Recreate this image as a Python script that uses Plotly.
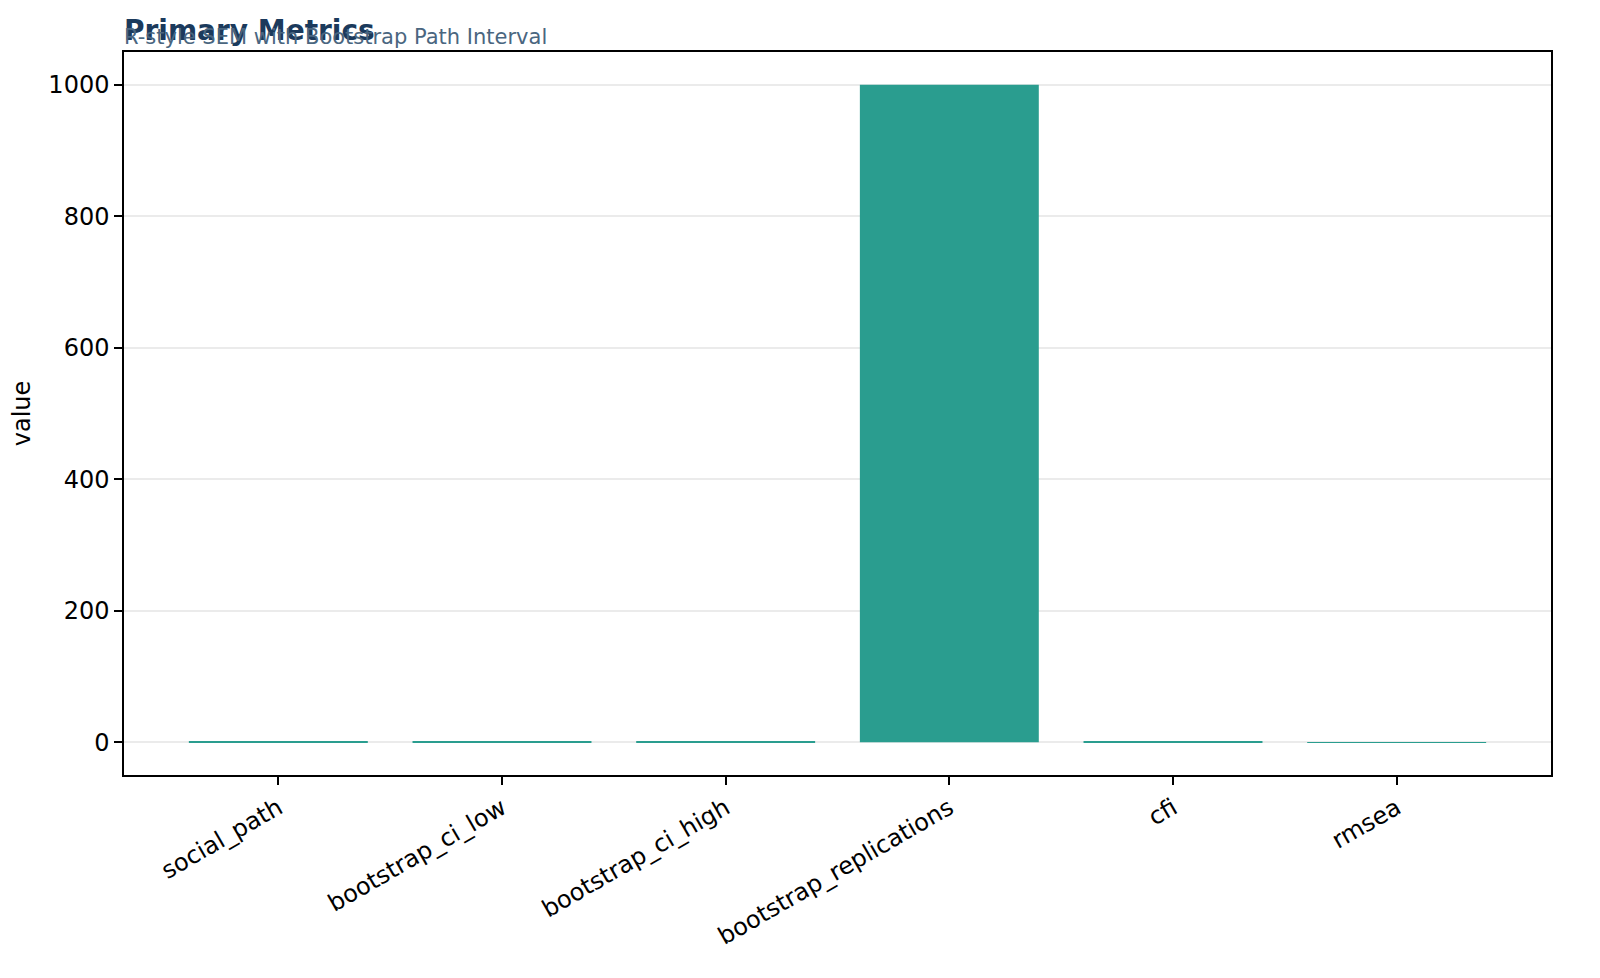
import plotly.graph_objects as go

# metric names and values
metrics = ["social_path", "bootstrap_ci_low", "bootstrap_ci_high",
           "bootstrap_replications", "cfi", "rmsea"]
values = [0.42, 0.28, 0.57, 1000, 0.96, 0.04]
y_ticks = [0, 200, 400, 600, 800, 1000]

bar_color = "#2a9d8f"
font_family = "DejaVu Sans, Liberation Sans, sans-serif"

fig = go.Figure()
fig.add_trace(go.Bar(
    x=list(range(len(metrics))),
    y=values,
    width=0.8,
    marker=dict(color=bar_color, line=dict(width=0)),
))

# page body has an 8px margin, so the figure is a bit smaller than the window
fig.update_layout(
    width=1584, height=962,
    paper_bgcolor="white", plot_bgcolor="white",
    margin=dict(l=116, r=41, t=44, b=195),
    font=dict(family=font_family, size=24, color="black"),
    showlegend=False,
    bargap=0.2,
)

fig.update_xaxes(
    tickmode="array",
    tickvals=list(range(len(metrics))),
    ticktext=metrics,
    tickangle=-30,
    range=[-0.69, len(metrics) - 1 + 0.69],
    showline=True, linecolor="black", linewidth=1.5, mirror=True,
    ticks="outside", ticklen=8, tickcolor="black", tickwidth=1.5,
    showgrid=False, zeroline=False,
    tickfont=dict(size=24),
)

fig.update_yaxes(
    tickmode="array",
    tickvals=y_ticks,
    range=[-50, 1050],
    showline=True, linecolor="black", linewidth=1.5, mirror=True,
    ticks="outside", ticklen=8, tickcolor="black", tickwidth=1.5,
    showgrid=True, gridcolor="#ebebeb", gridwidth=1.5,
    zeroline=False,
    title=dict(text="value", font=dict(size=24), standoff=12),
    tickfont=dict(size=24),
)

# title and subtitle sit on top of each other, as in the reference
fig.add_annotation(
    text="<b>Primary Metrics</b>", xref="paper", yref="paper",
    x=0, y=1, xanchor="left", yanchor="bottom", yshift=3, xshift=-2,
    showarrow=False, font=dict(size=28, color="#1b3a5c", family=font_family),
)
fig.add_annotation(
    text="R-style SEM with Bootstrap Path Interval", xref="paper", yref="paper",
    x=0, y=1, xanchor="left", yanchor="bottom", yshift=1, xshift=-2,
    showarrow=False, font=dict(size=21, color="#4a6680", family=font_family),
)

fig.write_html("out.html")
